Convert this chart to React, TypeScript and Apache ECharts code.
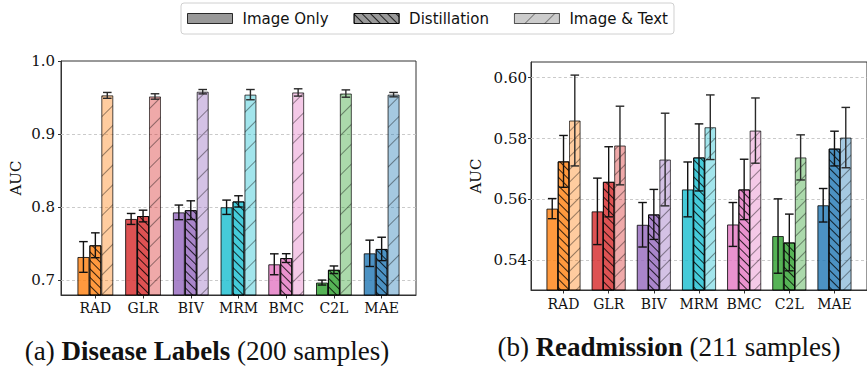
import React, { useEffect, useRef } from "react";
import * as echarts from "echarts";

const categories = ["RAD", "GLR", "BIV", "MRM", "BMC", "C2L", "MAE"];
const modelColors = ["#ff7f0e", "#d62728", "#9467bd", "#17becf", "#e377c2", "#2ca02c", "#1f77b4"];
const seriesNames = ["Image Only", "Distillation", "Image & Text"];

// (a) Disease Labels
const diseaseImageOnly = [0.732, 0.784, 0.793, 0.800, 0.722, 0.697, 0.737];
const diseaseImageOnlyErr = [0.021, 0.0075, 0.010, 0.0098, 0.0143, 0.0034, 0.018];
const diseaseDistill = [0.748, 0.788, 0.796, 0.808, 0.7305, 0.7145, 0.743];
const diseaseDistillErr = [0.017, 0.008, 0.0128, 0.0077, 0.006, 0.0052, 0.016];
const diseaseImageText = [0.953, 0.9515, 0.958, 0.954, 0.957, 0.9555, 0.954];
const diseaseImageTextErr = [0.004, 0.0037, 0.003, 0.007, 0.005, 0.005, 0.003];
const diseaseTicks = [0.7, 0.8, 0.9, 1.0];

// (b) Readmission
const readmImageOnly = [0.557, 0.5561, 0.5517, 0.5633, 0.5518, 0.548, 0.5581];
const readmImageOnlyErr = [0.0033, 0.0109, 0.0073, 0.009, 0.0072, 0.0122, 0.0055];
const readmDistill = [0.5725, 0.5658, 0.5551, 0.5738, 0.5633, 0.5459, 0.5767];
const readmDistillErr = [0.0085, 0.0115, 0.0082, 0.011, 0.0099, 0.0093, 0.0057];
const readmImageText = [0.5859, 0.5777, 0.5731, 0.5837, 0.5826, 0.5738, 0.5803];
const readmImageTextErr = [0.0149, 0.0129, 0.0152, 0.0106, 0.0107, 0.0074, 0.0099];
const readmTicks = [0.54, 0.56, 0.58, 0.6];

const catPositions = categories.map((_, i) => i);
const offsets = [-0.25, 0, 0.25];

const SERIF = "DejaVu Serif";
const SANS = "DejaVu Sans";
const CAPTION = "Liberation Serif";

function decalFor(k: number, wide: boolean) {
  if (k === 1) {
    return { symbol: "rect", symbolSize: 1, dashArrayX: [1, 0], dashArrayY: [1, 4.6], rotation: Math.PI / 4, color: "#000" };
  }
  if (k === 2) {
    return { symbol: "rect", symbolSize: 1, dashArrayX: [1, 0], dashArrayY: [1, wide ? 12.5 : 8], rotation: -Math.PI / 4, color: "#000" };
  }
  return "none";
}

const opacities = [0.8, 0.8, 0.4];

function barSeries(gi: number, k: number, vals: number[], barW: number, wide: boolean, grid?: number[]) {
  const s: any = {
    type: "bar",
    name: seriesNames[k],
    xAxisIndex: gi,
    yAxisIndex: gi,
    barWidth: barW,
    barGap: "-100%",
    z: 3,
    silent: true,
    emphasis: { disabled: true },
    itemStyle: {
      color: "#7f7f7f",
      borderColor: "#000",
      borderWidth: 1,
      opacity: opacities[k],
      decal: decalFor(k, wide),
    },
    data: vals.map((v, i) => ({ value: [i + offsets[k], v], itemStyle: { color: modelColors[i] } })),
  };
  if (grid) {
    s.markLine = {
      silent: true,
      symbol: "none",
      z: 1,
      label: { show: false },
      lineStyle: { color: "#c4c4c4", type: [3, 2.5], width: 0.9, opacity: 1 },
      emphasis: { disabled: true },
      data: grid.map((g) => ({ yAxis: g })),
    };
  }
  return s;
}

function errSeries(gi: number, k: number, vals: number[], errs: number[]) {
  const color = k === 2 ? "#2a2a2a" : "#111";
  return {
    type: "custom",
    xAxisIndex: gi,
    yAxisIndex: gi,
    z: 6,
    silent: true,
    data: vals.map((v, i) => [i + offsets[k], v - errs[i], v + errs[i]]),
    encode: { x: 0, y: [1, 2] },
    renderItem: (params: any, api: any) => {
      const x = api.value(0);
      const p1 = api.coord([x, api.value(1)]);
      const p2 = api.coord([x, api.value(2)]);
      const w = 4.3;
      const style = { stroke: color, lineWidth: 1.4 };
      return {
        type: "group",
        children: [
          { type: "line", shape: { x1: p1[0], y1: p1[1], x2: p2[0], y2: p2[1] }, style },
          { type: "line", shape: { x1: p1[0] - w, y1: p1[1], x2: p1[0] + w, y2: p1[1] }, style },
          { type: "line", shape: { x1: p2[0] - w, y1: p2[1], x2: p2[0] + w, y2: p2[1] }, style },
        ],
      };
    },
  };
}

function xAxisFor(gi: number, labelMargin: number) {
  return {
    type: "value",
    gridIndex: gi,
    min: -0.72,
    max: 6.72,
    splitLine: { show: false },
    axisLine: { show: true, onZero: false, lineStyle: { color: "#333", width: 1 } },
    axisTick: { show: true, customValues: catPositions, length: 3.5, lineStyle: { color: "#333" } },
    axisLabel: {
      customValues: catPositions,
      formatter: (v: number) => categories[Math.round(v)] ?? "",
      fontFamily: SERIF,
      fontSize: 14,
      color: "#111",
      margin: labelMargin,
    },
  };
}

function yAxisFor(gi: number, min: number, max: number, ticks: number[], digits: number, labelMargin: number, nameGap: number) {
  return {
    type: "value",
    gridIndex: gi,
    min,
    max,
    name: "AUC",
    nameLocation: "middle",
    nameRotate: 90,
    nameGap,
    nameTextStyle: { fontFamily: SERIF, fontSize: 15, color: "#111" },
    splitLine: { show: false },
    axisLine: { show: true, onZero: false, lineStyle: { color: "#333", width: 1 } },
    axisTick: { show: true, customValues: ticks, length: 3, lineStyle: { color: "#333" } },
    axisLabel: {
      customValues: ticks,
      formatter: (v: number) => v.toFixed(digits),
      fontFamily: SERIF,
      fontSize: 15,
      color: "#111",
      margin: labelMargin,
    },
  };
}

function caption(x: number, y: number, prefix: string, bold: string, suffix: string) {
  return {
    type: "text",
    x,
    y,
    style: {
      text: `{n|${prefix}}{b|${bold}}{n|${suffix}}`,
      align: "center",
      verticalAlign: "middle",
      rich: {
        n: { fontFamily: CAPTION, fontSize: 27, fill: "#111" },
        b: { fontFamily: CAPTION, fontSize: 27, fontWeight: "bold", fill: "#111" },
      },
    },
  };
}

export default function App() {
  const ref = useRef<HTMLDivElement>(null);
  useEffect(() => {
    if (!ref.current) return;
    const chart = echarts.init(ref.current, undefined, { renderer: "svg" });
    const gridInner = (v: number[]) => v.filter((t) => t > 0.5 && t < 0.999);
    const option: any = {
      animation: false,
      backgroundColor: "#fff",
      legend: {
        data: seriesNames,
        left: 181,
        top: 3,
        padding: [8, 6, 8, 6],
        itemWidth: 45,
        itemHeight: 10,
        itemGap: 25,
        icon: "rect",
        borderColor: "#d0d0d0",
        borderWidth: 1,
        borderRadius: 3,
        selectedMode: false,
        itemStyle: { borderColor: "#000", borderWidth: 1 },
        textStyle: { fontFamily: SANS, fontSize: 15, color: "#111", padding: [0, 0, 0, 5] },
      },
      grid: [
        { left: 61, top: 61, width: 355, height: 234, show: true, borderColor: "#333", borderWidth: 1, backgroundColor: "transparent" },
        { left: 531, top: 62, width: 346, height: 228, show: true, borderColor: "#333", borderWidth: 1, backgroundColor: "transparent" },
      ],
      xAxis: [xAxisFor(0, 6), xAxisFor(1, 7)],
      yAxis: [
        yAxisFor(0, 0.68, 1.0, diseaseTicks, 1, 6, 38),
        yAxisFor(1, 0.5303, 0.6051, readmTicks, 2, 4, 48),
      ],
      graphic: [
        caption(207, 351, "(a) ", "Disease Labels", " (200 samples)"),
        caption(669, 347, "(b) ", "Readmission", " (211 samples)"),
      ],
      series: [
        barSeries(0, 0, diseaseImageOnly, 12, true, gridInner(diseaseTicks)),
        barSeries(0, 1, diseaseDistill, 12, true),
        barSeries(0, 2, diseaseImageText, 12, true),
        errSeries(0, 0, diseaseImageOnly, diseaseImageOnlyErr),
        errSeries(0, 1, diseaseDistill, diseaseDistillErr),
        errSeries(0, 2, diseaseImageText, diseaseImageTextErr),
        barSeries(1, 0, readmImageOnly, 11.6, false, gridInner(readmTicks)),
        barSeries(1, 1, readmDistill, 11.6, false),
        barSeries(1, 2, readmImageText, 11.6, false),
        errSeries(1, 0, readmImageOnly, readmImageOnlyErr),
        errSeries(1, 1, readmDistill, readmDistillErr),
        errSeries(1, 2, readmImageText, readmImageTextErr),
      ],
    };
    chart.setOption(option);
    return () => chart.dispose();
  }, []);
  return <div ref={ref} style={{ width: 867, height: 366, position: "absolute", left: 0, top: 0 }} />;
}
